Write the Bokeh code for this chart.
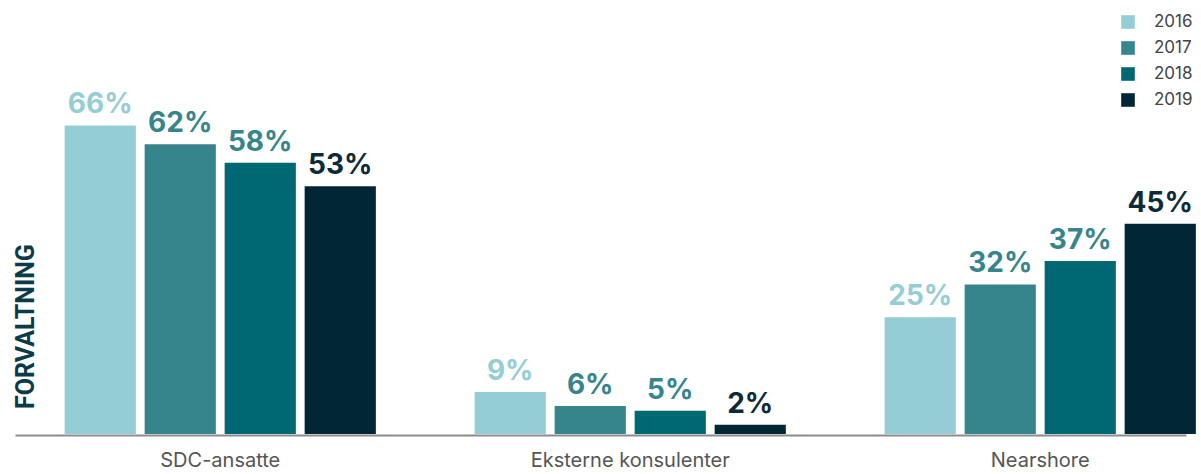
import math
from bokeh.plotting import figure
from bokeh.models import ColumnDataSource, Range1d, Legend, LegendItem
from bokeh.core.properties import value
from bokeh.embed import file_html
from bokeh.resources import INLINE

categories = ["SDC-ansatte", "Eksterne konsulenter", "Nearshore"]
years = ["2016", "2017", "2018", "2019"]
v2016 = [66, 9, 25]
v2017 = [62, 6, 32]
v2018 = [58, 5, 37]
v2019 = [53, 2, 45]
series = [v2016, v2017, v2018, v2019]

bar_colors = ["#95cdd5", "#37858c", "#006872", "#012635"]
label_colors = ["#95cdd5", "#37858c", "#37858c", "#0d2a38"]
axis_title = "FORVALTNING"

GROUP_GAP = 5.125
BAR_W = 0.89
PX_PER_UNIT = 80.0
PX_PER_PCT = 4.675
ORIGIN_X = 219.75   # pixel position of first group centre
BASE_Y = 433.5      # pixel position of the zero line

W, H = 1200, 474
x0 = -ORIGIN_X / PX_PER_UNIT
x1 = x0 + W / PX_PER_UNIT
y0 = -(H - BASE_Y) / PX_PER_PCT
y1 = BASE_Y / PX_PER_PCT

p = figure(width=W, height=H, output_backend="svg", toolbar_location=None,
           x_range=Range1d(x0, x1), y_range=Range1d(y0, y1),
           min_border=0)
p.outline_line_color = None
p.xgrid.visible = False
p.ygrid.visible = False
p.xaxis.visible = False
p.yaxis.visible = False

centers = [g * GROUP_GAP for g in range(len(categories))]

# baseline
p.segment(x0=[(15 - ORIGIN_X) / PX_PER_UNIT], x1=[(1186 - ORIGIN_X) / PX_PER_UNIT],
          y0=[-1.5 / PX_PER_PCT], y1=[-1.5 / PX_PER_PCT],
          line_color="#8c8c8c", line_width=2)

items = []
for j, (yr, vals) in enumerate(zip(years, series)):
    xs = [c + (j - 1.5) for c in centers]
    src = ColumnDataSource(dict(x=xs, top=vals, lab=[f"{v}%" for v in vals]))
    r = p.vbar(x="x", top="top", width=BAR_W, bottom=0, source=src,
               fill_color=bar_colors[j], line_color=None)
    p.text(x="x", y="top", text="lab", source=src, text_align="center",
           text_baseline="alphabetic", y_offset=-22,
           text_font=value("Inter"), text_font_style="bold",
           text_font_size="28px", text_color=label_colors[j])
    items.append(LegendItem(label=yr, renderers=[r]))

# category labels under the baseline
p.text(x=centers, y=[0] * len(centers), text=categories, text_align="center",
       text_baseline="alphabetic", y_offset=26,
       text_font=value("Inter"), text_font_size="20px", text_color="#555555")

legend = Legend(items=items, location=(1119, 365), glyph_width=17, glyph_height=17,
                spacing=6, label_standoff=18, padding=0, margin=0,
                border_line_color=None, background_fill_alpha=0,
                label_text_font="Inter", label_text_font_size="17px",
                label_text_color="#444444", label_height=17)
p.add_layout(legend)

# vertical title
p.text(x=[(25 - ORIGIN_X) / PX_PER_UNIT], y=[(BASE_Y - 326) / PX_PER_PCT], text=[axis_title],
       angle=math.pi / 2, text_align="center", text_baseline="middle",
       text_font=value("Roboto"), text_font_style="bold", text_font_size="25px",
       text_color="#0b3a48")

open("out.html", "w").write(file_html(p, INLINE))
